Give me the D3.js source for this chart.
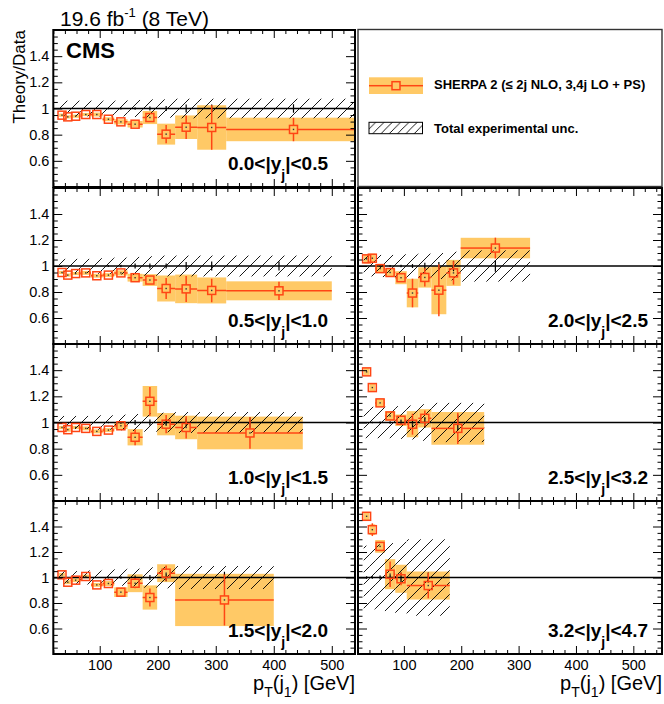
<!DOCTYPE html>
<html>
<head>
<meta charset="utf-8">
<script src="https://cdn.jsdelivr.net/npm/d3@7"></script>
<style>
  body { margin: 0; background: #fff; }
  text { font-family: "Liberation Sans", Arial, Helvetica, sans-serif; fill: #000; }
</style>
</head>
<body>
<svg id="chart" width="664" height="704"></svg>
<script>
// rapidity ranges, one per panel
var rapLabels = [["0.0", "0.5"], ["0.5", "1.0"], ["1.0", "1.5"], ["1.5", "2.0"],
                 ["2.0", "2.5"], ["2.5", "3.2"], ["3.2", "4.7"]];

// pT bin edges (GeV) per panel
var binEdges = [
  [30, 40, 50, 67, 85, 105, 125, 148, 174, 199, 230, 268, 318, 550],
  [30, 40, 50, 67, 85, 105, 125, 148, 174, 199, 230, 268, 318, 500],
  [30, 40, 50, 67, 85, 105, 125, 148, 174, 199, 230, 268, 450],
  [30, 40, 50, 67, 85, 105, 125, 148, 174, 199, 230, 400],
  [30, 40, 50, 67, 85, 105, 125, 148, 174, 199, 320],
  [30, 40, 50, 67, 85, 105, 125, 148, 240],
  [30, 40, 50, 67, 85, 105, 180]
];

// SHERPA 2 / data ratio
var ratio = [
  [0.949, 0.936, 0.941, 0.954, 0.954, 0.918, 0.898, 0.880, 0.931, 0.804, 0.857, 0.855, 0.840],
  [0.950, 0.930, 0.942, 0.947, 0.925, 0.930, 0.947, 0.910, 0.892, 0.827, 0.824, 0.812, 0.809],
  [0.962, 0.945, 0.962, 0.955, 0.932, 0.942, 0.975, 0.887, 1.162, 0.987, 0.962, 0.920],
  [1.021, 0.963, 0.979, 1.008, 0.942, 0.953, 0.885, 0.955, 0.843, 1.034, 0.824],
  [1.055, 1.060, 0.980, 0.950, 0.910, 0.792, 0.912, 0.814, 0.947, 1.138],
  [1.387, 1.267, 1.150, 1.050, 1.017, 0.987, 1.032, 0.955],
  [1.480, 1.375, 1.244, 1.026, 0.990, 0.937]
];

// theory uncertainty (half height of the orange box)
var theoryUnc = [
  [0.012, 0.012, 0.012, 0.012, 0.015, 0.015, 0.02, 0.025, 0.05, 0.08, 0.09, 0.17, 0.09],
  [0.012, 0.012, 0.012, 0.015, 0.015, 0.015, 0.02, 0.03, 0.045, 0.10, 0.11, 0.10, 0.073],
  [0.012, 0.015, 0.012, 0.015, 0.015, 0.015, 0.025, 0.062, 0.117, 0.085, 0.09, 0.125],
  [0.015, 0.015, 0.015, 0.015, 0.015, 0.02, 0.038, 0.07, 0.095, 0.07, 0.205],
  [0.035, 0.035, 0.035, 0.03, 0.05, 0.11, 0.078, 0.185, 0.10, 0.079],
  [0.03, 0.034, 0.03, 0.037, 0.044, 0.10, 0.07, 0.125],
  [0.034, 0.042, 0.05, 0.118, 0.11, 0.11]
];

// theory statistical error (vertical bar half length)
var theoryStat = [
  [0.005, 0.005, 0.005, 0.005, 0.008, 0.01, 0.012, 0.02, 0.035, 0.07, 0.09, 0.17, 0.09],
  [0.005, 0.005, 0.005, 0.006, 0.008, 0.01, 0.012, 0.02, 0.03, 0.08, 0.10, 0.09, 0.07],
  [0.005, 0.006, 0.006, 0.007, 0.008, 0.01, 0.015, 0.06, 0.11, 0.07, 0.085, 0.12],
  [0.006, 0.006, 0.007, 0.008, 0.01, 0.012, 0.02, 0.04, 0.07, 0.06, 0.20],
  [0.015, 0.015, 0.015, 0.015, 0.03, 0.11, 0.07, 0.20, 0.09, 0.08],
  [0.01, 0.012, 0.015, 0.02, 0.03, 0.08, 0.06, 0.12],
  [0.01, 0.05, 0.02, 0.10, 0.05, 0.10]
];

// total experimental uncertainty (hatched band half height)
var expUnc = [
  [0.06, 0.06, 0.06, 0.06, 0.06, 0.06, 0.06, 0.065, 0.07, 0.07, 0.075, 0.075, 0.075],
  [0.055, 0.055, 0.055, 0.055, 0.06, 0.06, 0.065, 0.07, 0.075, 0.08, 0.08, 0.08, 0.08],
  [0.05, 0.05, 0.05, 0.05, 0.055, 0.055, 0.06, 0.065, 0.07, 0.075, 0.08, 0.08],
  [0.05, 0.05, 0.05, 0.055, 0.055, 0.06, 0.065, 0.07, 0.08, 0.085, 0.09],
  [0.08, 0.08, 0.085, 0.085, 0.09, 0.09, 0.095, 0.10, 0.11, 0.12],
  [0.12, 0.12, 0.12, 0.12, 0.125, 0.13, 0.14, 0.15],
  [0.25, 0.25, 0.26, 0.27, 0.28, 0.30]
];

// data statistical error, drawn at ratio 1
var dataStat = [
  [0.002, 0.002, 0.002, 0.003, 0.004, 0.006, 0.008, 0.01, 0.015, 0.02, 0.03, 0.03, 0.033],
  [0.002, 0.002, 0.002, 0.003, 0.004, 0.006, 0.01, 0.02, 0.02, 0.02, 0.03, 0.035, 0.035],
  [0.002, 0.002, 0.003, 0.003, 0.004, 0.006, 0.01, 0.02, 0.022, 0.025, 0.03, 0.04],
  [0.002, 0.002, 0.003, 0.004, 0.005, 0.007, 0.01, 0.015, 0.02, 0.03, 0.045],
  [0.005, 0.005, 0.006, 0.008, 0.01, 0.015, 0.025, 0.03, 0.04, 0.045],
  [0.005, 0.006, 0.008, 0.01, 0.015, 0.035, 0.04, 0.06],
  [0.01, 0.01, 0.015, 0.02, 0.04, 0.04]
];

var xMajor = [100, 200, 300, 400, 500];
var xMinor = d3.range(20, 541, 20).filter(function(v) { return v % 100 !== 0; });
var yMajor = [0.6, 0.8, 1.0, 1.2, 1.4];
var yMinor = d3.range(9, 32).filter(function(k) { return k % 4 !== 0; }).map(function(k) { return k * 0.05; });

var boxColor = "#ffc966";
var lineColor = "#ff4514";

// panel placement
var panelCol = [0, 0, 0, 0, 1, 1, 1];
var panelRow = [0, 1, 2, 3, 1, 2, 3];
var cols = [
  { x0: 53.3, x1: 355, dom: [20, 540] },
  { x0: 358, x1: 662, dom: [20, 550] }
];
var rows = [[30, 187], [188, 344], [344, 501], [501, 654]];

var svg = d3.select("#chart");
var defs = svg.append("defs");

function hatchPattern(id, s) {
  defs.append("pattern")
    .attr("id", id)
    .attr("patternUnits", "userSpaceOnUse")
    .attr("width", s).attr("height", s)
    .append("path")
    .attr("d", "M0," + s + " L" + s + ",0 M" + (-s / 2) + "," + (s / 2) + " L" + (s / 2) + "," + (-s / 2) +
               " M" + (s / 2) + "," + (1.5 * s) + " L" + (1.5 * s) + "," + (s / 2))
    .attr("stroke", "#000").attr("stroke-width", 0.9).attr("fill", "none");
}
hatchPattern("hatch", 12);
hatchPattern("hatchLeg", 8.3);

var ms = 4; // marker half size

function drawPoint(g, cx, cy, xl, xr, yt, yb) {
  // horizontal bin line, split around the marker
  if (xl < cx - ms) g.append("line").attr("x1", xl).attr("x2", cx - ms).attr("y1", cy).attr("y2", cy);
  if (xr > cx + ms) g.append("line").attr("x1", cx + ms).attr("x2", xr).attr("y1", cy).attr("y2", cy);
  if (yt < cy - ms) g.append("line").attr("x1", cx).attr("x2", cx).attr("y1", yt).attr("y2", cy - ms);
  if (yb > cy + ms) g.append("line").attr("x1", cx).attr("x2", cx).attr("y1", cy + ms).attr("y2", yb);
  g.append("rect")
    .attr("x", cx - ms).attr("y", cy - ms)
    .attr("width", 2 * ms).attr("height", 2 * ms)
    .attr("fill", "none");
  g.append("rect")
    .attr("x", cx - 0.7).attr("y", cy - 0.7)
    .attr("width", 1.4).attr("height", 1.4)
    .attr("fill", "#333").attr("stroke", "none");
}

binEdges.forEach(function(edges, p) {
  var c = cols[panelCol[p]];
  var r = rows[panelRow[p]];
  var isBottom = panelRow[p] === 3;
  var isLeft = panelCol[p] === 0;

  var x = d3.scaleLinear().domain(c.dom).range([c.x0, c.x1]);
  var y = d3.scaleLinear().domain([0.4, 1.6]).range([r[1], r[0]]);

  var clipId = "clip" + p;
  defs.append("clipPath").attr("id", clipId)
    .append("rect")
    .attr("x", c.x0).attr("y", r[0])
    .attr("width", c.x1 - c.x0).attr("height", r[1] - r[0]);

  var bins = ratio[p].map(function(v, i) {
    return { lo: edges[i], hi: edges[i + 1], v: v,
             u: theoryUnc[p][i], s: theoryStat[p][i], e: expUnc[p][i], d: dataStat[p][i] };
  });

  var plot = svg.append("g").attr("clip-path", "url(#" + clipId + ")");

  // theory uncertainty boxes
  plot.append("g").selectAll("rect")
    .data(bins).join("rect")
    .attr("x", function(d) { return x(d.lo); })
    .attr("width", function(d) { return x(d.hi) - x(d.lo); })
    .attr("y", function(d) { return y(d.v + d.u); })
    .attr("height", function(d) { return y(d.v - d.u) - y(d.v + d.u); })
    .attr("fill", boxColor);

  // experimental uncertainty, hatched
  plot.append("g").selectAll("rect")
    .data(bins).join("rect")
    .attr("x", function(d) { return x(d.lo); })
    .attr("width", function(d) { return x(d.hi) - x(d.lo); })
    .attr("y", function(d) { return y(1 + d.e); })
    .attr("height", function(d) { return y(1 - d.e) - y(1 + d.e); })
    .attr("fill", "url(#hatch)");

  // unity line
  plot.append("line")
    .attr("x1", c.x0).attr("x2", c.x1)
    .attr("y1", y(1)).attr("y2", y(1))
    .attr("stroke", "#000").attr("stroke-width", 1.6);

  // data stat errors at 1
  plot.append("g").selectAll("line")
    .data(bins.filter(function(d) { return y(1 - d.d) - y(1 + d.d) > 1.5; }))
    .join("line")
    .attr("x1", function(d) { return x((d.lo + d.hi) / 2); })
    .attr("x2", function(d) { return x((d.lo + d.hi) / 2); })
    .attr("y1", function(d) { return y(1 + d.d); })
    .attr("y2", function(d) { return y(1 - d.d); })
    .attr("stroke", "#000").attr("stroke-width", 1.2);

  // theory points
  var pts = plot.append("g")
    .attr("stroke", lineColor).attr("stroke-width", 1.5);
  bins.forEach(function(d) {
    drawPoint(pts, x((d.lo + d.hi) / 2), y(d.v), x(d.lo), x(d.hi), y(d.v + d.s), y(d.v - d.s));
  });

  // ticks on all four sides, pointing inward
  function styleAxis(sel) {
    sel.select(".domain").remove();
    sel.selectAll(".tick line").attr("stroke", "#000").attr("stroke-width", 1);
    sel.selectAll("text").style("font-size", "14.5px").attr("fill", "#000");
  }
  var fmtY = function(v) { return Math.abs(v - 1) < 1e-9 ? "1" : v.toFixed(1); };

  svg.append("g").attr("transform", "translate(0," + r[1] + ")")
    .call(d3.axisBottom(x).tickValues(xMajor).tickSize(-8).tickPadding(6)
      .tickFormat(isBottom ? d3.format("d") : function() { return ""; }))
    .call(styleAxis);
  svg.append("g").attr("transform", "translate(0," + r[1] + ")")
    .call(d3.axisBottom(x).tickValues(xMinor).tickSize(-4).tickFormat(""))
    .call(styleAxis);
  svg.append("g").attr("transform", "translate(0," + r[0] + ")")
    .call(d3.axisTop(x).tickValues(xMajor).tickSize(-8).tickFormat(""))
    .call(styleAxis);
  svg.append("g").attr("transform", "translate(0," + r[0] + ")")
    .call(d3.axisTop(x).tickValues(xMinor).tickSize(-4).tickFormat(""))
    .call(styleAxis);

  svg.append("g").attr("transform", "translate(" + c.x0 + ",0)")
    .call(d3.axisLeft(y).tickValues(yMajor).tickSize(-9).tickPadding(4)
      .tickFormat(isLeft ? fmtY : function() { return ""; }))
    .call(styleAxis);
  svg.append("g").attr("transform", "translate(" + c.x0 + ",0)")
    .call(d3.axisLeft(y).tickValues(yMinor).tickSize(-4.5).tickFormat(""))
    .call(styleAxis);
  svg.append("g").attr("transform", "translate(" + c.x1 + ",0)")
    .call(d3.axisRight(y).tickValues(yMajor).tickSize(-9).tickFormat(""))
    .call(styleAxis);
  svg.append("g").attr("transform", "translate(" + c.x1 + ",0)")
    .call(d3.axisRight(y).tickValues(yMinor).tickSize(-4.5).tickFormat(""))
    .call(styleAxis);

  // frame
  svg.append("rect")
    .attr("x", c.x0).attr("y", r[0])
    .attr("width", c.x1 - c.x0).attr("height", r[1] - r[0])
    .attr("fill", "none").attr("stroke", "#000").attr("stroke-width", 2);

  // rapidity label
  var lab = svg.append("text")
    .attr("x", isLeft ? c.x1 - 27 : c.x1 - 14)
    .attr("y", r[1] - 17)
    .attr("text-anchor", "end")
    .style("font-size", "19px").style("font-weight", "bold");
  lab.append("tspan").text(rapLabels[p][0] + "<|y");
  lab.append("tspan").attr("dy", 10).style("font-size", "14px").text("j");
  lab.append("tspan").attr("dy", -10).text("|<" + rapLabels[p][1]);

  // x title
  if (isBottom) {
    var xt = svg.append("text")
      .attr("x", c.x1).attr("y", 690)
      .attr("text-anchor", "end")
      .style("font-size", "20px");
    xt.append("tspan").text("p");
    xt.append("tspan").attr("dy", 7).style("font-size", "14px").text("T");
    xt.append("tspan").attr("dy", -7).text("(j");
    xt.append("tspan").attr("dy", 7).style("font-size", "14px").text("1");
    xt.append("tspan").attr("dy", -7).text(") [GeV]");
  }
});

// legend panel
svg.append("rect")
  .attr("x", 358).attr("y", 29.5).attr("width", 304).attr("height", 157)
  .attr("fill", "none").attr("stroke", "#333").attr("stroke-width", 1.4);

svg.append("rect")
  .attr("x", 369).attr("y", 77.3).attr("width", 54).attr("height", 16.7)
  .attr("fill", boxColor);
var legPt = svg.append("g").attr("stroke", lineColor).attr("stroke-width", 1.5);
legPt.append("line").attr("x1", 369).attr("x2", 392).attr("y1", 85.7).attr("y2", 85.7);
legPt.append("line").attr("x1", 400).attr("x2", 423).attr("y1", 85.7).attr("y2", 85.7);
legPt.append("rect").attr("x", 392).attr("y", 81.7).attr("width", 8).attr("height", 8).attr("fill", "none");

svg.append("rect")
  .attr("x", 369).attr("y", 122.3).attr("width", 53.5).attr("height", 11.4)
  .attr("fill", "url(#hatchLeg)").attr("stroke", "#000").attr("stroke-width", 1);

svg.append("text")
  .attr("x", 434).attr("y", 89)
  .style("font-size", "13px").style("font-weight", "bold")
  .text("SHERPA 2 (\u2264 2j NLO, 3,4j LO + PS)");
svg.append("text")
  .attr("x", 434).attr("y", 133.3)
  .style("font-size", "13px").style("font-weight", "bold")
  .text("Total experimental unc.");

// labels
var lumi = svg.append("text")
  .attr("x", 60).attr("y", 26)
  .style("font-size", "21px");
lumi.append("tspan").text("19.6 fb");
lumi.append("tspan").attr("dy", -9).style("font-size", "13px").text("-1");
lumi.append("tspan").attr("dy", 9).text(" (8 TeV)");

svg.append("text")
  .attr("x", 66).attr("y", 58)
  .style("font-size", "22px").style("font-weight", "bold")
  .text("CMS");

svg.append("text")
  .attr("transform", "translate(25,30) rotate(-90)")
  .attr("text-anchor", "end")
  .style("font-size", "17px")
  .text("Theory/Data");
</script>
</body>
</html>
